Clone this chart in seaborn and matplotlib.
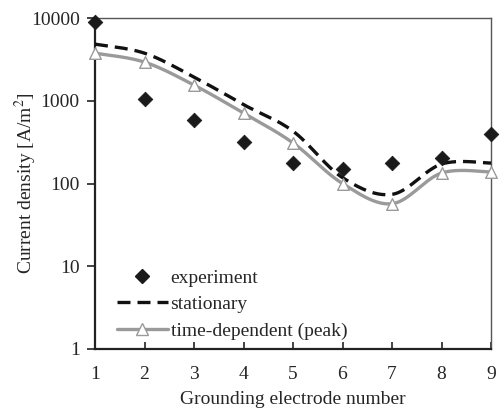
import numpy as np
import pandas as pd
import matplotlib
matplotlib.use("Agg")
import matplotlib.pyplot as plt
import seaborn as sns
from matplotlib.lines import Line2D

electrodes = [1, 2, 3, 4, 5, 6, 7, 8, 9]
experiment = [8900, 1050, 585, 316, 177, 150, 177, 203, 396]
stationary = [4850, 3770, 1940, 900, 430, 118, 74, 172, 177]
time_dependent = [3770, 2940, 1550, 711, 310, 100, 57, 134, 138]
y_ticks = [1, 10, 100, 1000, 10000]
x_ticks = [1, 2, 3, 4, 5, 6, 7, 8, 9]


def smooth(xs, ys, n=40):
    """Excel-style smoothed line (Catmull-Rom Bezier) in x / log10(y) space."""
    P = np.column_stack([np.asarray(xs, float), np.log10(np.asarray(ys, float))])
    Pe = np.vstack([P[0], P, P[-1]])
    out = []
    t = np.linspace(0, 1, n)[:, None]
    for i in range(len(P) - 1):
        p0, p1, p2, p3 = Pe[i], Pe[i + 1], Pe[i + 2], Pe[i + 3]
        b0 = p1
        b1 = p1 + (p2 - p0) / 6.0
        b2 = p2 - (p3 - p1) / 6.0
        b3 = p2
        seg = ((1 - t) ** 3) * b0 + 3 * ((1 - t) ** 2) * t * b1 + 3 * (1 - t) * t ** 2 * b2 + t ** 3 * b3
        out.append(seg if i == 0 else seg[1:])
    c = np.vstack(out)
    return c[:, 0], 10 ** c[:, 1]


sns.set_theme(style="white")
plt.rcParams["font.family"] = ["Liberation Serif", "DejaVu Serif"]
plt.rcParams["mathtext.fontset"] = "stix"

fig = plt.figure(figsize=(5.0, 4.12), dpi=100)
ax = fig.add_axes([0.19, 0.153, 0.792, 0.803])

gray = "#9a9a9a"
dash = (0, (3.9, 2.1))

sx, sy = smooth(electrodes, stationary)
ax.plot(sx, sy, color="#111111", lw=2.4, ls=dash, zorder=3)

tx, ty = smooth(electrodes, time_dependent)
ax.plot(tx, ty, color=gray, lw=2.4, zorder=2)

df_t = pd.DataFrame({"x": electrodes, "y": time_dependent})
sns.scatterplot(data=df_t, x="x", y="y", ax=ax, marker="^", s=70,
                facecolor="white", edgecolor=gray, linewidth=1.0, zorder=4, legend=False,
                clip_on=False)

df_e = pd.DataFrame({"x": electrodes, "y": experiment})
sns.scatterplot(data=df_e, x="x", y="y", ax=ax, marker="D", s=55,
                color="#1a1a1a", edgecolor="#1a1a1a", zorder=5, legend=False, clip_on=False)

ax.set_yscale("log")
ax.set_xlim(1, 9)
ax.set_ylim(1, 10000)
ax.set_xticks(x_ticks)
ax.set_xticklabels([str(v) for v in x_ticks])
ax.set_yticks(y_ticks)
ax.set_yticklabels([str(v) for v in y_ticks])
ax.minorticks_off()

ax.tick_params(axis="x", direction="in", length=5, width=1.2, color="#222222",
               labelsize=14, pad=12, bottom=True)
ax.tick_params(axis="y", direction="out", length=6, width=1.2, color="#222222",
               labelsize=14, pad=5, left=True)

for s in ["left", "bottom"]:
    ax.spines[s].set_color("#222222")
    ax.spines[s].set_linewidth(1.6)
for s in ["top", "right"]:
    ax.spines[s].set_color("#555555")
    ax.spines[s].set_linewidth(1.0)

ax.set_xlabel("Grounding electrode number", fontsize=14, labelpad=6)
ax.set_ylabel("Current density [A/m$^2$]", fontsize=14)
ax.yaxis.set_label_coords(-0.142, 0.5)

handles = [
    Line2D([], [], ls="none", marker="D", markersize=7, color="#1a1a1a"),
    Line2D([], [], color="#111111", lw=2.4, ls=dash),
    Line2D([], [], color=gray, lw=2.4, marker="^", markersize=9,
           markerfacecolor="white", markeredgecolor=gray),
]
labels = ["experiment", "stationary", "time-dependent (peak)"]
ax.legend(handles, labels, loc="lower left", bbox_to_anchor=(0.036, 0.005),
          frameon=False, fontsize=14, handlelength=2.6, handletextpad=0.15,
          labelspacing=0.45, borderaxespad=0)

fig.savefig("out.png", dpi=100)
